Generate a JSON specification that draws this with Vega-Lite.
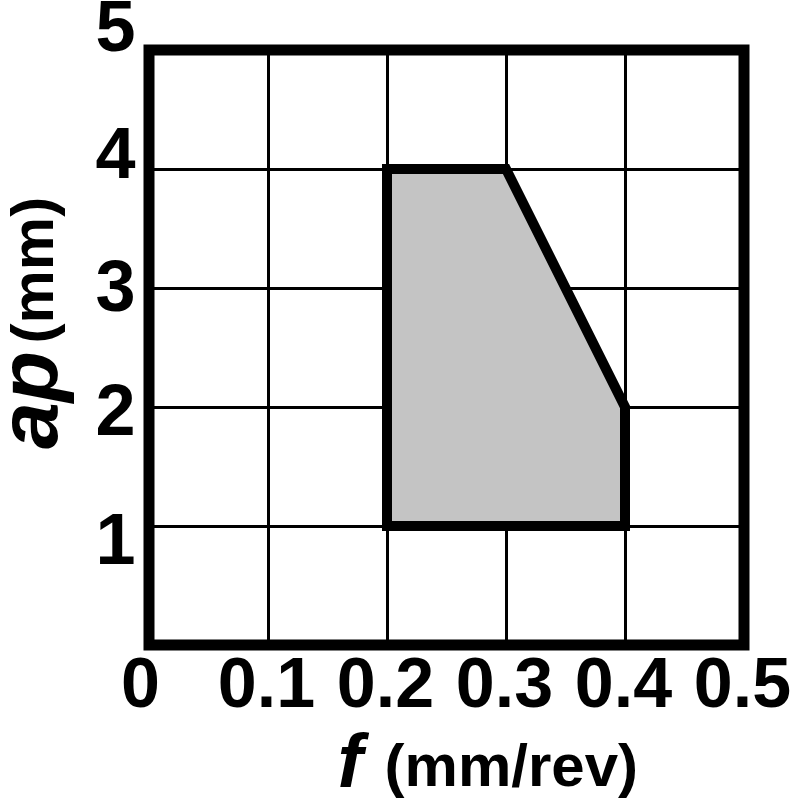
{
  "$schema": "https://vega.github.io/schema/vega-lite/v6.json",
  "width": 595,
  "height": 595,
  "autosize": {"type": "none"},
  "padding": {"left": 149, "top": 50, "right": 56, "bottom": 155},
  "background": "white",
  "config": {
    "view": {"stroke": "black", "strokeWidth": 11},
    "font": "Liberation Sans"
  },
  "layer": [
    {
      "data": {"values": [
        {"f": 0.2, "ap": 4, "ap0": 1},
        {"f": 0.3, "ap": 4, "ap0": 1},
        {"f": 0.4, "ap": 2, "ap0": 1}
      ]},
      "mark": {"type": "area", "fill": "#c4c4c4", "stroke": "black", "strokeWidth": 10, "strokeJoin": "miter", "fillOpacity": 1},
      "encoding": {
        "x": {
          "field": "f", "type": "quantitative",
          "scale": {"domain": [0, 0.5], "nice": false, "zero": false},
          "axis": {
            "title": null,
            "values": [0, 0.1, 0.2, 0.3, 0.4, 0.5],
            "labelExpr": "datum.value == 0 ? '0' : format(datum.value, '.1f')",
            "domain": false,
            "ticks": false,
            "tickSize": 0,
            "grid": true,
            "gridColor": "black",
            "gridWidth": 3,
            "gridOpacity": 1,
            "labelFontSize": 70,
            "labelFontWeight": "bold",
            "labelColor": "black",
            "labelFlush": false,
            "labelOverlap": false,
            "labelBound": false,
            "labelPadding": 6,
            "labelOffset": {"condition": {"test": "datum.value == 0", "value": -9}, "value": -2}
          }
        },
        "y": {
          "field": "ap", "type": "quantitative",
          "scale": {"domain": [0, 5], "nice": false, "zero": false},
          "axis": {
            "title": null,
            "values": [0, 1, 2, 3, 4, 5],
            "labelExpr": "datum.value == 0 ? '' : format(datum.value, 'd')",
            "domain": false,
            "ticks": false,
            "tickSize": 0,
            "grid": true,
            "gridColor": "black",
            "gridWidth": 3,
            "gridOpacity": 1,
            "labelFontSize": 72,
            "labelFontWeight": "bold",
            "labelColor": "black",
            "labelFlush": false,
            "labelOverlap": false,
            "labelBound": false,
            "labelPadding": 14,
            "labelBaseline": "middle",
            "labelOffset": {"condition": [
              {"test": "datum.value == 5", "value": -22},
              {"test": "datum.value == 4", "value": -14},
              {"test": "datum.value == 2", "value": 5},
              {"test": "datum.value == 1", "value": 15}
            ], "value": 0}
          }
        },
        "y2": {"field": "ap0"}
      }
    },
    {
      "data": {"values": [{"t": "ap"}]},
      "mark": {"type": "text", "angle": 270, "align": "center", "baseline": "alphabetic", "fontSize": 84, "fontWeight": "bold", "fontStyle": "italic", "color": "black"},
      "encoding": {
        "x": {"datum": -0.077, "type": "quantitative"},
        "y": {"datum": 2.06, "type": "quantitative"},
        "text": {"field": "t"}
      }
    },
    {
      "data": {"values": [{"t": "(mm)"}]},
      "mark": {"type": "text", "angle": 270, "align": "center", "baseline": "alphabetic", "fontSize": 60, "fontWeight": "bold", "color": "black"},
      "encoding": {
        "x": {"datum": -0.0807, "type": "quantitative"},
        "y": {"datum": 3.15, "type": "quantitative"},
        "text": {"field": "t"}
      }
    },
    {
      "data": {"values": [{"t": "f"}]},
      "mark": {"type": "text", "align": "center", "baseline": "alphabetic", "fontSize": 76, "fontWeight": "bold", "fontStyle": "italic", "color": "black"},
      "encoding": {
        "x": {"datum": 0.169, "type": "quantitative"},
        "y": {"datum": -1.19, "type": "quantitative"},
        "text": {"field": "t"}
      }
    },
    {
      "data": {"values": [{"t": "(mm/rev)"}]},
      "mark": {"type": "text", "align": "left", "baseline": "alphabetic", "fontSize": 60, "fontWeight": "bold", "color": "black"},
      "encoding": {
        "x": {"datum": 0.198, "type": "quantitative"},
        "y": {"datum": -1.185, "type": "quantitative"},
        "text": {"field": "t"}
      }
    }
  ]
}
